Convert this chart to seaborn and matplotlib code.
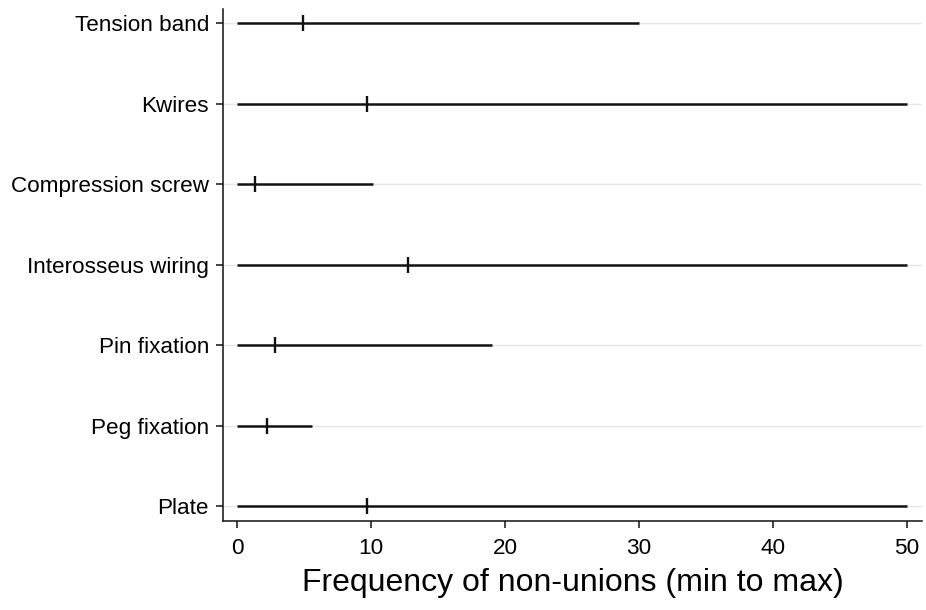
import pandas as pd
import matplotlib
matplotlib.use('Agg')
import matplotlib.pyplot as plt
import seaborn as sns

# values
methods = ['Tension band', 'Kwires', 'Compression screw', 'Interosseus wiring',
           'Pin fixation', 'Peg fixation', 'Plate']
min_vals = [0, 0, 0, 0, 0, 0, 0]
max_vals = [30, 50, 10.1, 50, 19, 5.6, 50]
mid_vals = [4.9, 9.7, 1.3, 12.7, 2.8, 2.2, 9.7]

data = pd.DataFrame({'method': methods, 'min': min_vals, 'max': max_vals, 'mid': mid_vals})

sns.set_style('white')
plt.rcParams['font.family'] = ['Liberation Sans', 'DejaVu Sans']
plt.rcParams['text.color'] = 'black'
plt.rcParams['axes.labelcolor'] = 'black'
plt.rcParams['xtick.color'] = 'black'
plt.rcParams['ytick.color'] = 'black'

fig = plt.figure(figsize=(9.26, 6.10), dpi=100)
ax = fig.add_axes([0.2408, 0.1459, 0.9957 - 0.2408, 0.9852 - 0.1459])

ypos = list(range(len(methods)))
for y in ypos:
    ax.axhline(y, color='#e6e6e6', lw=1, zorder=0)

ax.hlines(ypos, data['min'], data['max'], color='#111111', lw=1.8, zorder=2)
sns.scatterplot(x=data['mid'], y=ypos, marker='|', s=120, color='#111111',
                linewidth=1.7, ax=ax, zorder=3, legend=False)

ax.set_yticks(ypos)
ax.set_yticklabels(methods)
ax.set_ylim(6.186, -0.174)
ax.set_xlim(-1.08, 51.12)
ax.set_xticks([0, 10, 20, 30, 40, 50])

ax.set_xlabel('Frequency of non-unions (min to max)', fontsize=23, labelpad=7)
ax.set_ylabel('')

sns.despine(ax=ax)
for s in ['left', 'bottom']:
    ax.spines[s].set_color('#111111')
    ax.spines[s].set_linewidth(1.1)

ax.tick_params(axis='both', which='major', labelsize=16.2, length=5, width=1.1,
               color='#111111', labelcolor='black', direction='out', left=True, bottom=True)
ax.tick_params(axis='y', pad=5)
ax.tick_params(axis='x', pad=7)

fig.savefig('out.png', dpi=100)
